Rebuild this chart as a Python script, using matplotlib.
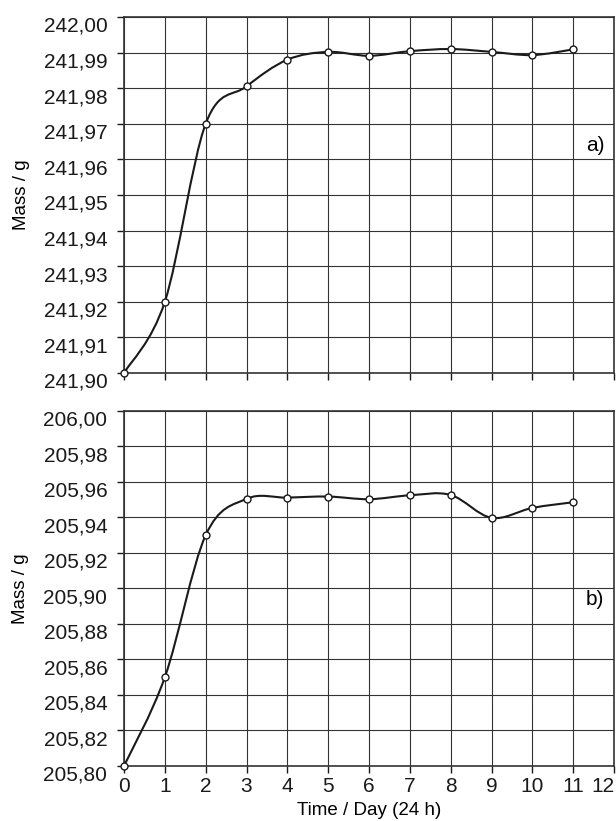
import matplotlib
matplotlib.use("Agg")
import matplotlib.pyplot as plt
import matplotlib.transforms as mtransforms
from matplotlib.path import Path
from matplotlib.patches import PathPatch
import numpy as np

plt.rcParams['font.family'] = ['Liberation Sans', 'DejaVu Sans']

dias = [0, 1, 2, 3, 4, 5, 6, 7, 8, 9, 10, 11]
masa_a = [241.900, 241.920, 241.970, 241.9805, 241.988, 241.9902,
          241.9891, 241.9904, 241.9910, 241.9902, 241.9893, 241.9909]
masa_b = [205.800, 205.850, 205.930, 205.9505, 205.9512, 205.9518,
          205.9503, 205.9525, 205.9527, 205.9398, 205.9454, 205.9486]

yticks_a = [241.90, 241.91, 241.92, 241.93, 241.94, 241.95,
            241.96, 241.97, 241.98, 241.99, 242.00]
yticks_b = [205.80, 205.82, 205.84, 205.86, 205.88, 205.90,
            205.92, 205.94, 205.96, 205.98, 206.00]
xticks = list(range(0, 13))


def curva_suave(x, y):
    # Catmull-Rom como curvas Bezier, para el trazo suave entre puntos
    x = np.asarray(x, float)
    y = np.asarray(y, float)
    n = len(x)
    verts = [(x[0], y[0])]
    codes = [Path.MOVETO]
    for i in range(n - 1):
        x0, y0 = (x[i - 1], y[i - 1]) if i > 0 else (x[i], y[i])
        x3, y3 = (x[i + 2], y[i + 2]) if i + 2 < n else (x[i + 1], y[i + 1])
        c1 = (x[i] + (x[i + 1] - x0) / 6, y[i] + (y[i + 1] - y0) / 6)
        c2 = (x[i + 1] - (x3 - x[i]) / 6, y[i + 1] - (y3 - y[i]) / 6)
        verts += [c1, c2, (x[i + 1], y[i + 1])]
        codes += [Path.CURVE4] * 3
    return Path(verts, codes)


fig = plt.figure(figsize=(6.16, 8.21), dpi=100)
ax1 = fig.add_axes([0.2013, 0.5457, 0.7955, 0.4336])
ax2 = fig.add_axes([0.2013, 0.0670, 0.7955, 0.4324])

# las etiquetas del eje y van un poco por debajo de su linea
bajar = mtransforms.ScaledTranslation(0, -0.075, fig.dpi_scale_trans)

for ax, masa, yt, etiqueta, ypos in [(ax1, masa_a, yticks_a, 'a)', 0.64),
                                     (ax2, masa_b, yticks_b, 'b)', 0.47)]:
    ax.add_patch(PathPatch(curva_suave(dias, masa), fill=False,
                           edgecolor='#1a1a1a', lw=1.5, zorder=3))
    ax.plot(dias, masa, linestyle='none', marker='o', ms=5,
            mfc='white', mec='#1a1a1a', mew=1.0, zorder=4, clip_on=False)
    ax.set_xlim(0, 12)
    ax.set_ylim(yt[0], yt[-1])
    ax.set_xticks(xticks)
    ax.set_yticks(yt)
    ax.set_yticklabels([f"{v:.2f}".replace('.', ',') for v in yt])
    ax.grid(True, color='#333333', lw=0.8)
    ax.set_axisbelow(True)
    ax.tick_params(direction='out', length=5, width=1, labelsize=15,
                   colors='#1a1a1a', pad=3)
    ax.tick_params(axis='y', pad=7)
    for lab in ax.get_yticklabels():
        lab.set_transform(lab.get_transform() + bajar)
    for s in ax.spines.values():
        s.set_color('#333333')
        s.set_linewidth(1.2)
    ax.set_ylabel('Mass / g', fontsize=13.5, labelpad=10)
    ax.text(0.98, ypos, etiqueta, transform=ax.transAxes, ha='right',
            va='center', fontsize=15)

ax1.tick_params(axis='x', labelbottom=False)
ax2.set_xticklabels([str(t) for t in xticks])
ax2.tick_params(axis='x', pad=3)
ax2.get_xticklabels()[-1].set_horizontalalignment('right')
ax2.set_xlabel('Time / Day (24 h)', fontsize=13.5, labelpad=4)

fig.savefig('out.png', dpi=100)
